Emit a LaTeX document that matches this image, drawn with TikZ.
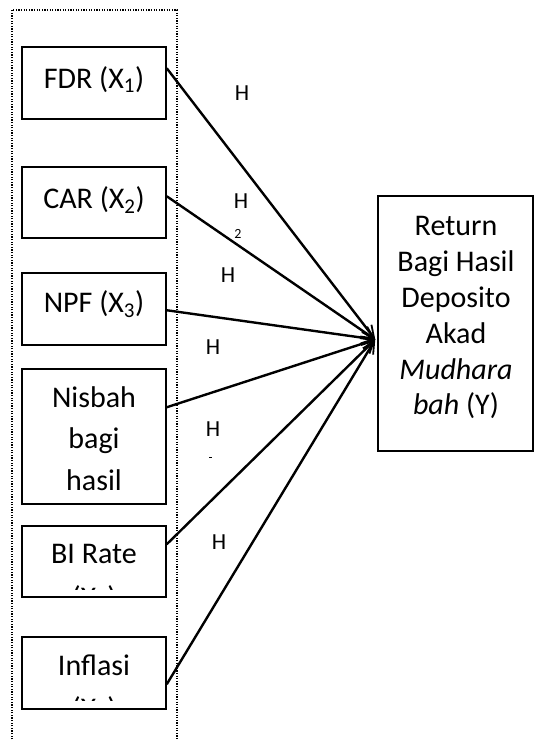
\documentclass[tikz,border=0pt]{standalone}
\usepackage{fontspec}
\setmainfont{Carlito}
\usetikzlibrary{arrows.meta,calc}
\begin{document}
\begin{tikzpicture}[x=1pt,y=-1pt,
  varbox/.style={draw,line width=1.5pt,inner sep=0pt,minimum width=144pt},
  boxtext/.style={anchor=base,inner sep=0pt,font=\fontsize{30}{36}\selectfont},
  hlabel/.style={inner sep=0pt,font=\fontsize{23}{26}\selectfont},
  conn/.style={line width=2.4pt,-{Straight Barb[length=12pt,width=12pt,line width=1.8pt]}}]
\useasboundingbox (0,0) rectangle (534,740);
% dotted frame
\draw[line width=1.3pt,dash pattern=on 1.3pt off 1.3pt] (12,742) -- (12,10) -- (177,10) -- (177,742);
% boxes
\node[varbox,minimum height=72pt] (fdr) at (94,83) {};
\node[varbox,minimum height=71pt] (car) at (94,202.5) {};
\node[varbox,minimum height=72pt] (npf) at (94,309) {};
\node[varbox,minimum height=135pt] (nis) at (94,436.5) {};
\node[varbox,minimum height=71pt] (bir) at (94,561.5) {};
\node[varbox,minimum height=72pt] (inf) at (94,673) {};
\node[draw,line width=1.5pt,inner sep=0pt,minimum width=155pt,minimum height=255pt] (ret) at (455.5,323.5) {};
% box texts
\node[boxtext] (tfdr) at (94,88) {FDR (X\textsubscript{1})};
\node[boxtext] (tcar) at (94,208) {CAR (X\textsubscript{2})};
\node[boxtext] (tnpf) at (94,312) {NPF (X\textsubscript{3})};
\node[boxtext] (tnis1) at (94,407) {Nisbah};
\node[boxtext] (tnis2) at (94,448) {bagi};
\node[boxtext] (tnis3) at (94,490) {hasil};
\node[boxtext] (tbir) at (94,563) {BI Rate};
\node[boxtext] (tinf) at (94,675) {Inflasi};
\begin{scope}
  \clip (23,526) rectangle (165,589.5);
  \node[boxtext] (tbir2) at (94,607) {(X\textsubscript{5})};
\end{scope}
\begin{scope}
  \clip (23,637) rectangle (165,700.5);
  \node[boxtext] (tinf2) at (94,718) {(X\textsubscript{6})};
\end{scope}
\node[boxtext] (r1) at (456,235) {Return};
\node[boxtext] (r2) at (456,271) {Bagi Hasil};
\node[boxtext] (r3) at (456,307) {Deposito};
\node[boxtext] (r4) at (456,343) {Akad};
\node[boxtext] (r5) at (456,379) {\itshape Mudhara};
\node[boxtext] (r6) at (456,414) {\itshape bah\upshape{} (Y)};
% H labels
\node[hlabel] (h1) at (242,93) {H};
\node[hlabel] (h2) at (241,201) {H};
\node[inner sep=0pt,font=\fontsize{14}{15}\selectfont] (h2s) at (238,234) {2};
\node[hlabel] (h3) at (228,275) {H};
\node[hlabel] (h4) at (213,347) {H};
\node[hlabel] (h5) at (213,429) {H};
\node[hlabel] (h6) at (219,542) {H};
\draw[line width=1pt] (209,457) -- (212,457);
% connectors
\coordinate (tip) at ($(ret.west)+(-2,16)$);
\draw[conn] ($(fdr.north east)+(0,22)$) -- (tip);
\draw[conn] ($(car.north east)+(0,30)$) -- (tip);
\draw[conn] ($(npf.north east)+(0,38)$) -- (tip);
\draw[conn] ($(nis.north east)+(0,39)$) -- (tip);
\draw[conn] ($(bir.north east)+(0,19)$) -- (tip);
\draw[conn] ($(inf.north east)+(0,48)$) -- (tip);
\end{tikzpicture}
\end{document}
